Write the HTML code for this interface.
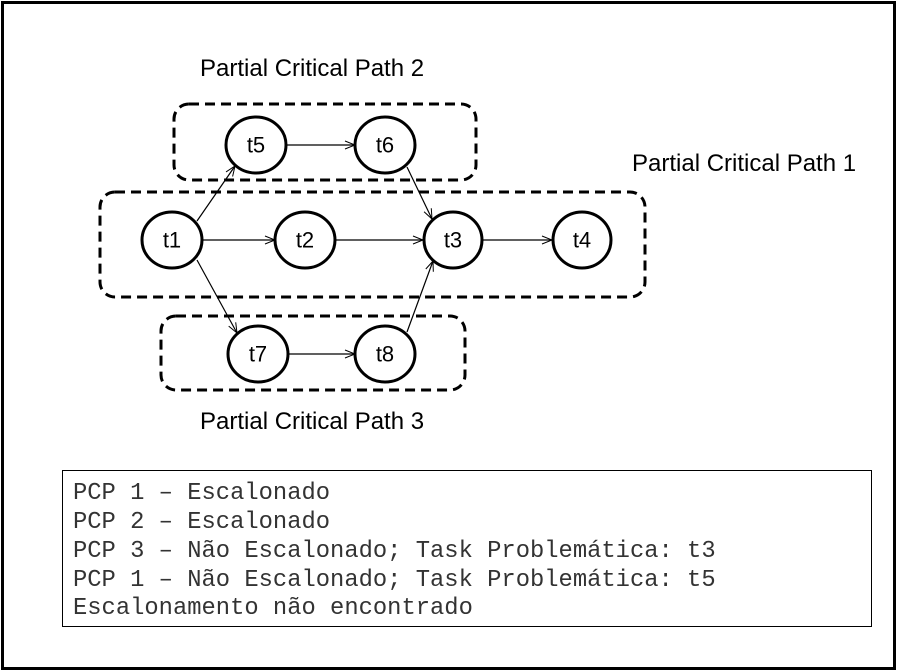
<!DOCTYPE html>
<html><head><meta charset="utf-8"><style>
body{margin:0;background:#fff;}
svg{display:block;}
.lbl{font-family:"Liberation Sans",sans-serif;font-size:24px;fill:#000;}
.nt{font-family:"Liberation Sans",sans-serif;font-size:22px;fill:#000;text-anchor:middle;dominant-baseline:central;}
.mono{font-family:"Liberation Mono","Courier New",monospace;font-size:23.8px;fill:#333;}
</style></head><body>
<svg width="897" height="671" viewBox="0 0 897 671" xmlns="http://www.w3.org/2000/svg">
<defs>
<marker id="a" markerWidth="12" markerHeight="10" refX="11" refY="5" orient="auto" markerUnits="userSpaceOnUse">
<path d="M1,1 L11,5 L1,9" fill="none" stroke="#000" stroke-width="1"/>
</marker>
</defs>
<rect x="2.5" y="2.5" width="892" height="666" fill="#fff" stroke="#000" stroke-width="3"/>
<g fill="none" stroke="#000" stroke-width="3" stroke-dasharray="10,6">
<rect x="174" y="104" width="302" height="76" rx="15"/>
<rect x="100" y="192" width="545" height="105" rx="15"/>
<rect x="161" y="316" width="304" height="74" rx="15"/>
</g>
<text class="lbl" x="200" y="76">Partial Critical Path 2</text>
<text class="lbl" x="632" y="171">Partial Critical Path 1</text>
<text class="lbl" x="200" y="429">Partial Critical Path 3</text>
<g stroke="#000" stroke-width="1.2" fill="none" marker-end="url(#a)">
<line x1="202" y1="240" x2="275" y2="240"/>
<line x1="335" y1="240" x2="423" y2="240"/>
<line x1="483" y1="240" x2="552" y2="240"/>
<line x1="286" y1="145" x2="355" y2="145"/>
<line x1="288" y1="354" x2="355" y2="354"/>
<line x1="197" y1="221" x2="235" y2="166"/>
<line x1="197" y1="260" x2="237" y2="333"/>
<line x1="407" y1="167" x2="432" y2="219"/>
<line x1="407" y1="332" x2="433" y2="261"/>
</g>
<g fill="#fff" stroke="#000" stroke-width="3">
<ellipse cx="172" cy="240" rx="30" ry="28"/>
<ellipse cx="305" cy="240" rx="30" ry="28"/>
<ellipse cx="453" cy="240" rx="29" ry="28"/>
<ellipse cx="582" cy="240" rx="29" ry="28"/>
<ellipse cx="256" cy="145" rx="30" ry="28"/>
<ellipse cx="385" cy="145" rx="30" ry="28"/>
<ellipse cx="258" cy="354" rx="30" ry="28"/>
<ellipse cx="385" cy="354" rx="30" ry="28"/>
</g>
<text class="nt" x="172" y="240">t1</text>
<text class="nt" x="305" y="240">t2</text>
<text class="nt" x="453" y="240">t3</text>
<text class="nt" x="582" y="240">t4</text>
<text class="nt" x="256" y="145">t5</text>
<text class="nt" x="385" y="145">t6</text>
<text class="nt" x="258" y="354">t7</text>
<text class="nt" x="385" y="354">t8</text>
<rect x="62.5" y="470.5" width="809" height="156" fill="#fff" stroke="#000" stroke-width="1"/>
<text class="mono" x="73" y="499">PCP 1 – Escalonado</text>
<text class="mono" x="73" y="528">PCP 2 – Escalonado</text>
<text class="mono" x="73" y="557">PCP 3 – Não Escalonado; Task Problemática: t3</text>
<text class="mono" x="73" y="586">PCP 1 – Não Escalonado; Task Problemática: t5</text>
<text class="mono" x="73" y="614">Escalonamento não encontrado</text>
</svg>
</body></html>
